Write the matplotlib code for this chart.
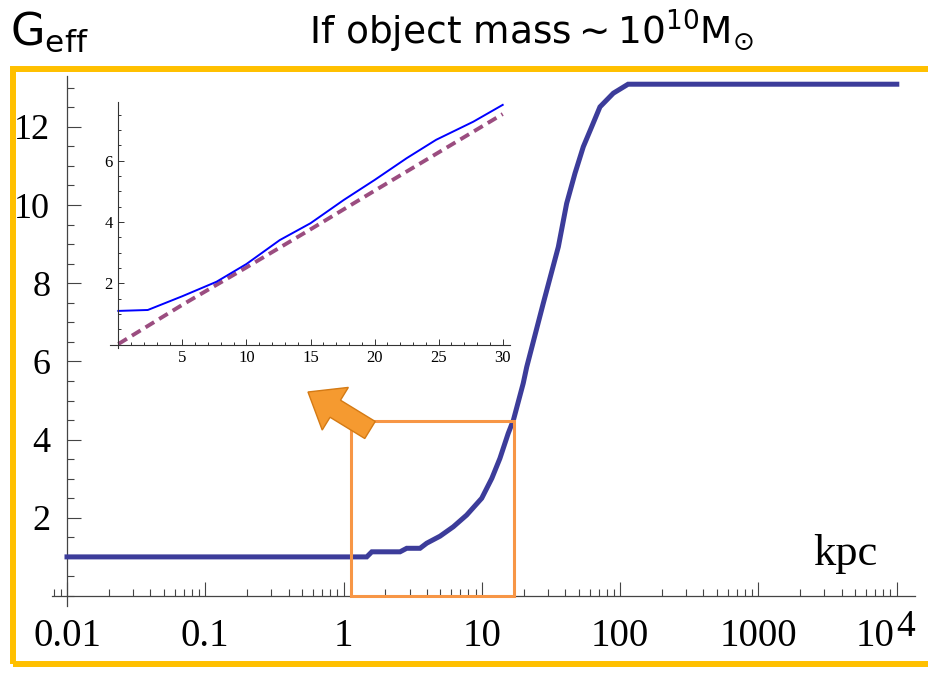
import matplotlib
matplotlib.use("Agg")
import matplotlib.pyplot as plt
import matplotlib.patches as mpatches
from matplotlib.ticker import FixedLocator, LogLocator, NullFormatter, MultipleLocator

# main curve: G_eff vs radius (kpc)
r_main = [0.01, 1.47, 1.60, 2.56, 2.86, 3.57, 3.99, 4.98, 6.21, 7.76, 9.97, 11.8, 13.5,
          15.5, 16.9, 19.9, 21.1, 27.8, 35.7, 41.0, 47.1, 54.1, 62.2, 71.4, 89.2, 114, 10000]
g_main = [1.0, 1.0, 1.13, 1.13, 1.22, 1.22, 1.35, 1.53, 1.77, 2.07, 2.5, 3.01, 3.52,
          4.16, 4.5, 5.44, 5.86, 7.49, 8.93, 10.04, 10.81, 11.49, 12.0, 12.51, 12.86, 13.09, 13.09]

# inset curves (linear scale)
r_inset = [0, 2.3, 5, 7.66, 10, 12.6, 15, 17.6, 20, 22.5, 24.8, 27.7, 30]
g_inset = [1.1, 1.13, 1.58, 2.05, 2.63, 3.41, 3.96, 4.72, 5.37, 6.08, 6.68, 7.27, 7.82]
r_dash = [0, 5, 10, 15, 20, 25, 30]
g_dash = [0.02, 1.3, 2.52, 3.76, 5.02, 6.27, 7.52]

xtick_vals = [0.01, 0.1, 1, 10, 100, 1000, 10000]
xtick_labels = ['0.01', '0.1', '1', '10', '100', '1000', '']
ytick_vals = [2, 4, 6, 8, 10, 12]

plt.rcParams['font.family'] = 'Liberation Serif'

W, H = 929, 675
fig = plt.figure(figsize=(W / 100, H / 100), dpi=100)

# main axes
ax = fig.add_axes([52 / W, (H - 606) / H, 863 / W, (606 - 76) / H])
ax.set_xscale('log')
ax.plot(r_main, g_main, color='#3c3c9a', lw=3.6, solid_joinstyle='miter', zorder=3)
ax.set_xlim(0.00779, 13540)
ax.set_ylim(-0.256, 13.3)
ax.spines['top'].set_visible(False)
ax.spines['right'].set_visible(False)
ax.spines['left'].set_position(('data', 0.01))
ax.spines['bottom'].set_position(('data', 0))
for s in ['left', 'bottom']:
    ax.spines[s].set_color('#444444')
    ax.spines[s].set_linewidth(0.9)
ax.xaxis.set_major_locator(FixedLocator(xtick_vals))
ax.set_xticklabels(xtick_labels)
ax.xaxis.set_minor_locator(LogLocator(base=10, subs=range(2, 10)))
ax.xaxis.set_minor_formatter(NullFormatter())
ax.yaxis.set_major_locator(FixedLocator(ytick_vals))
ax.yaxis.set_minor_locator(MultipleLocator(0.5))
ax.tick_params(which='both', direction='in', color='#444444', width=0.8)
ax.tick_params(which='major', length=10)
ax.tick_params(which='minor', length=5)
ax.tick_params(axis='x', pad=16, labelsize=28)
ax.tick_params(axis='y', pad=12, labelsize=26)
# last x label written as 10 with raised 4
ax.annotate('10', xy=(10000, 0), xycoords='data', xytext=(-1.4, -16),
            textcoords='offset points', fontsize=28, ha='right', va='top')
ax.annotate('4', xy=(10000, 0), xycoords='data', xytext=(-0.7, -9.5),
            textcoords='offset points', fontsize=27, ha='left', va='top')

# zoom box
ax.add_patch(mpatches.Rectangle((1.13, 0), 17.06 - 1.13, 4.48, fill=False,
                                edgecolor='#f79646', lw=2.2, zorder=4, clip_on=False))

fig.text(845 / W, (H - 565) / H, 'kpc', fontsize=32, ha='center', va='baseline')

# inset
axi = fig.add_axes([110 / W, (H - 347.7) / H, 400.4 / W, (347.7 - 101.5) / H])
axi.set_facecolor('none')
axi.plot(r_dash, g_dash, color='#9b4d80', lw=2.8, dashes=(2.6, 1.5))
axi.plot(r_inset, g_inset, color='#0000ff', lw=1.4)
axi.set_xlim(-0.65, 30.6)
axi.set_ylim(-0.1, 7.93)
axi.spines['top'].set_visible(False)
axi.spines['right'].set_visible(False)
axi.spines['left'].set_position(('data', 0))
axi.spines['bottom'].set_position(('data', 0))
for s in ['left', 'bottom']:
    axi.spines[s].set_color('#333333')
    axi.spines[s].set_linewidth(0.8)
axi.xaxis.set_major_locator(FixedLocator([5, 10, 15, 20, 25, 30]))
axi.xaxis.set_minor_locator(MultipleLocator(1))
axi.yaxis.set_major_locator(FixedLocator([2, 4, 6]))
axi.yaxis.set_minor_locator(MultipleLocator(0.5))
axi.tick_params(which='both', direction='in', color='#333333', width=0.7)
axi.tick_params(which='major', length=4, labelsize=12, pad=4)
axi.tick_params(which='minor', length=2)

# arrow pointing to inset
arrow = mpatches.FancyArrow(370, H - 430, -62, 38, width=20, head_width=50,
                            head_length=32, length_includes_head=True,
                            facecolor='#f59a30', edgecolor='#d47a14', lw=1,
                            transform=None)
fig.add_artist(arrow)

# outer frame (right side runs off the picture)
frame = mpatches.Rectangle((13, H - 663.5), 940, 595, fill=False,
                           edgecolor='#ffc000', lw=4.3, transform=None)
fig.add_artist(frame)

fig.text(10 / W, (H - 45) / H, r'G$_{\mathrm{eff}}$', family='DejaVu Sans',
         fontsize=32, ha='left', va='baseline')
fig.text(532 / W, (H - 45) / H, r'If object mass$\sim$10$^{10}$M$_{\odot}$',
         family='DejaVu Sans', fontsize=27, ha='center', va='baseline')

fig.savefig('out.png', dpi=100)
